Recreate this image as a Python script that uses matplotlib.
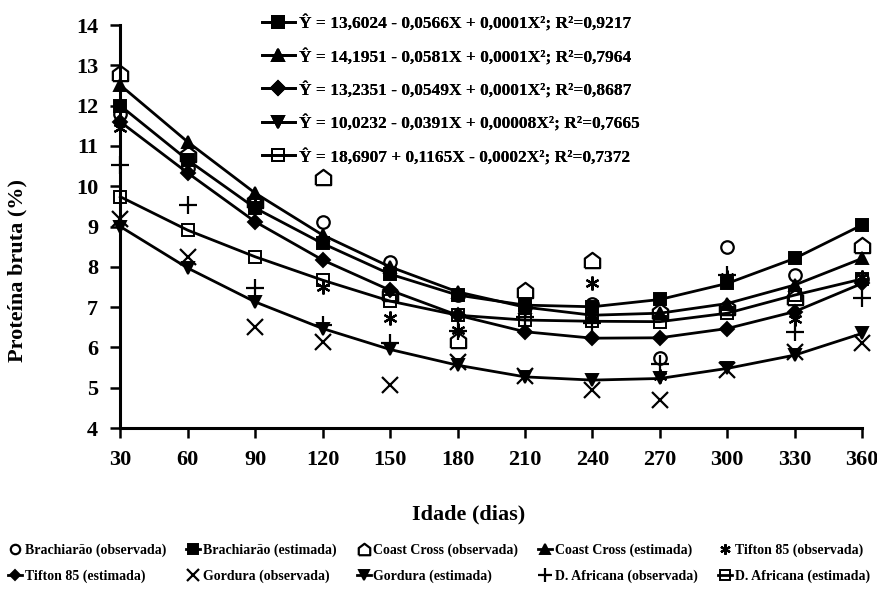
import matplotlib.pyplot as plt
import numpy as np

plt.rcParams['font.family'] = ['Liberation Serif', 'DejaVu Serif']
plt.rcParams['font.weight'] = 'bold'

dias = [30, 60, 90, 120, 150, 180, 210, 240, 270, 300, 330, 360]

# valores observados
brach_obs = [11.8, 10.45, 9.58, 9.12, 8.13, 7.3, 7.0, 7.09, 5.75, 8.5, 7.8, 7.7]
coast_obs = [12.8, 10.8, 9.66, 10.24, 7.35, 6.18, 7.42, 8.17, 6.9, 7.01, 7.26, 8.54]
tifton_obs = [11.45, 10.6, 9.5, 7.51, 6.72, 6.43, 6.98, 7.59, 5.3, 7.75, 6.7, 7.75]
gordura_obs = [9.2, 8.24, 6.51, 6.14, 5.07, 5.65, 5.3, 4.94, 4.69, 5.45, 5.89, 6.1]
africana_obs = [10.53, 9.53, 7.47, 6.55, 6.1, 6.4, 6.76, 6.6, 5.6, 7.8, 6.39, 7.22]

# valores estimados
brach_est = [12.0, 10.65, 9.46, 8.58, 7.82, 7.3, 7.05, 7.01, 7.19, 7.59, 8.21, 9.04]
coast_est = [12.51, 11.1, 9.83, 8.79, 8.0, 7.38, 7.0, 6.8, 6.85, 7.09, 7.55, 8.21]
tifton_est = [11.6, 10.33, 9.12, 8.17, 7.42, 6.8, 6.39, 6.23, 6.24, 6.47, 6.89, 7.59]
gordura_est = [9.0, 7.97, 7.13, 6.47, 5.95, 5.56, 5.27, 5.19, 5.23, 5.48, 5.81, 6.35]
africana_est = [9.74, 8.91, 8.25, 7.67, 7.15, 6.8, 6.68, 6.65, 6.64, 6.85, 7.3, 7.7]

equacoes = [
    'Ŷ = 13,6024 - 0,0566X + 0,0001X²; R²=0,9217',
    'Ŷ = 14,1951 - 0,0581X + 0,0001X²; R²=0,7964',
    'Ŷ = 13,2351 - 0,0549X + 0,0001X²; R²=0,8687',
    'Ŷ = 10,0232 - 0,0391X + 0,00008X²; R²=0,7665',
    'Ŷ = 18,6907 + 0,1165X - 0,0002X²; R²=0,7372',
]

casa = [(-1, -1), (1, -1), (1, 0.25), (0, 1), (-1, 0.25), (-1, -1)]

fig = plt.figure(figsize=(8.78, 5.97), dpi=100)
ax = fig.add_axes([0.137, 0.283, 0.845, 0.675])

est_cfg = [
    (brach_est, 's', 'black'),
    (coast_est, '^', 'black'),
    (tifton_est, 'D', 'black'),
    (gordura_est, 'v', 'black'),
    (africana_est, 's', 'none'),
]
est_handles = []
for vals, mk, fc in est_cfg:
    ms = 7 if mk == 'D' else 9
    h, = ax.plot(dias, vals, color='black', lw=2, marker=mk, markersize=ms,
                 markerfacecolor=fc, markeredgecolor='black', markeredgewidth=1.4,
                 clip_on=False, zorder=3)
    est_handles.append(h)

obs_cfg = [
    (brach_obs, 'o', 9),
    (coast_obs, casa, 11),
    (tifton_obs, (6, 2, 0), 10),
    (gordura_obs, 'x', 11),
    (africana_obs, '+', 13),
]
obs_handles = []
for vals, mk, ms in obs_cfg:
    h, = ax.plot(dias, vals, linestyle='none', marker=mk, markersize=ms,
                 markerfacecolor='none', markeredgecolor='black', markeredgewidth=1.6,
                 clip_on=False, zorder=4)
    obs_handles.append(h)

ax.set_xlim(30, 360)
ax.set_ylim(4, 14)
ax.set_xticks(dias)
ax.set_yticks(range(4, 15))
ax.spines['top'].set_visible(False)
ax.spines['right'].set_visible(False)
ax.spines['left'].set_linewidth(2.2)
ax.spines['bottom'].set_linewidth(2.2)
ax.tick_params(direction='out', length=7, width=1.8, labelsize=16, pad=9)
for t in ax.get_xticklabels() + ax.get_yticklabels():
    t.set_fontweight('bold')

ax.set_xlabel('Idade (dias)', fontsize=16, fontweight='bold')
ax.xaxis.set_label_coords(0.469, -0.19)
ax.set_ylabel('Proteína bruta (%)', fontsize=16, fontweight='bold')
ax.yaxis.set_label_coords(-0.125, 0.39)

# legenda das equações
leg1 = ax.legend(est_handles, equacoes, loc='upper left', bbox_to_anchor=(0.288, 0.99),
                 bbox_transform=fig.transFigure, frameon=False, fontsize=12.5,
                 handlelength=1.9, handletextpad=0.25, labelspacing=0.95, borderpad=0)
for t in leg1.get_texts():
    t.set_fontweight('bold')
ax.add_artist(leg1)

# legenda inferior (ordem por linhas)
row1 = [obs_handles[0], est_handles[0], obs_handles[1], est_handles[1], obs_handles[2]]
row1_lab = ['Brachiarão (observada)', 'Brachiarão (estimada)', 'Coast Cross (observada)',
            'Coast Cross (estimada)', 'Tifton 85 (observada)']
row2 = [est_handles[2], obs_handles[3], est_handles[3], obs_handles[4], est_handles[4]]
row2_lab = ['Tifton 85 (estimada)', 'Gordura (observada)', 'Gordura (estimada)',
            'D. Africana (observada)', 'D. Africana (estimada)']
hs, ls = [], []
for a, b, la, lb in zip(row1, row2, row1_lab, row2_lab):
    hs += [a, b]
    ls += [la, lb]
leg2 = fig.legend(hs, ls, loc='lower left', bbox_to_anchor=(0.0, 0.01, 1.0, 0.1),
                  mode='expand', ncol=5, frameon=False, fontsize=10,
                  handlelength=1.0, handletextpad=0.2, columnspacing=0.3,
                  labelspacing=0.85, borderpad=0.1, markerscale=0.75)
for t in leg2.get_texts():
    t.set_fontweight('bold')

fig.savefig('out.png', dpi=100)
